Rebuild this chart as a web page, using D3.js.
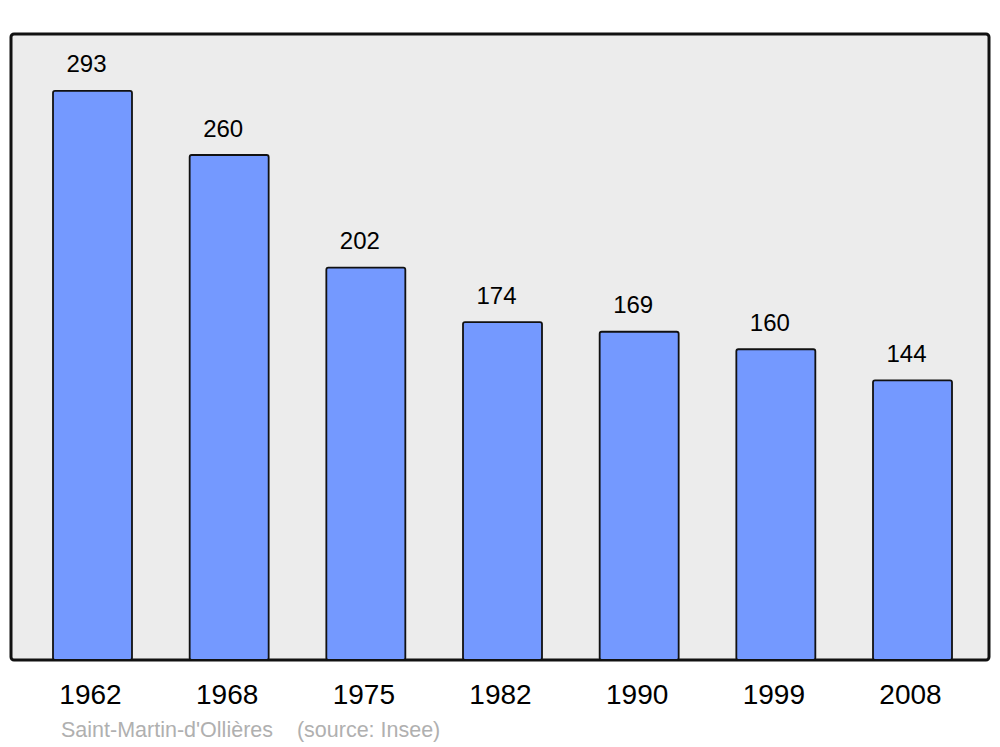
<!DOCTYPE html>
<html><head><meta charset="utf-8">
<script src="https://cdn.jsdelivr.net/npm/d3@7"></script>
<style>body{margin:0;background:#fff}</style>
</head><body>
<script>
const years = ["1962","1968","1975","1982","1990","1999","2008"];
const population = [293,260,202,174,169,160,144];
const sourceText = "Saint-Martin-d'Ollières    (source: Insee)";

const W = 1000, H = 747;
const svg = d3.select("body").append("svg").attr("width", W).attr("height", H);
const panel = {x0: 11, x1: 989, y0: 34, y1: 660};

svg.append("rect").attr("x", panel.x0).attr("y", panel.y0)
  .attr("width", panel.x1 - panel.x0).attr("height", panel.y1 - panel.y0)
  .attr("rx", 3).attr("fill", "#ececec").attr("stroke", "#111").attr("stroke-width", 3);

const x = d3.scaleBand().domain(years).range([53, 952]).paddingInner(0.422).paddingOuter(0);
const y = d3.scaleLinear().domain([0, d3.max(population) * 1.1]).range([panel.y1, panel.y0]);

const data = years.map((yr, i) => ({yr, v: population[i]}));

svg.selectAll("rect.bar").data(data).enter().append("rect").attr("class", "bar")
  .attr("x", d => x(d.yr)).attr("y", d => y(d.v))
  .attr("width", x.bandwidth()).attr("height", d => y(0) - y(d.v))
  .attr("rx", 2).attr("fill", "#7499ff").attr("stroke", "#111").attr("stroke-width", 1.8);

svg.selectAll("text.val").data(data).enter().append("text").attr("class", "val")
  .attr("x", d => x(d.yr) + x.bandwidth() / 2 - 6).attr("y", d => y(d.v) - 18.5)
  .attr("text-anchor", "middle").attr("font-family", "Liberation Sans, Arial, sans-serif")
  .attr("font-size", 24).attr("fill", "#000").text(d => d.v);

svg.selectAll("text.yr").data(data).enter().append("text").attr("class", "yr")
  .attr("x", d => x(d.yr) + x.bandwidth() / 2 - 2).attr("y", 704)
  .attr("text-anchor", "middle").attr("font-family", "Liberation Sans, Arial, sans-serif")
  .attr("font-size", 28).attr("fill", "#000").text(d => d.yr);

svg.append("text").attr("x", 61).attr("y", 737)
  .attr("font-family", "Liberation Sans, Arial, sans-serif").attr("font-size", 21.5)
  .attr("fill", "#b0b0b0").attr("xml:space", "preserve").style("white-space", "pre")
  .text(sourceText);
</script>
</body></html>
